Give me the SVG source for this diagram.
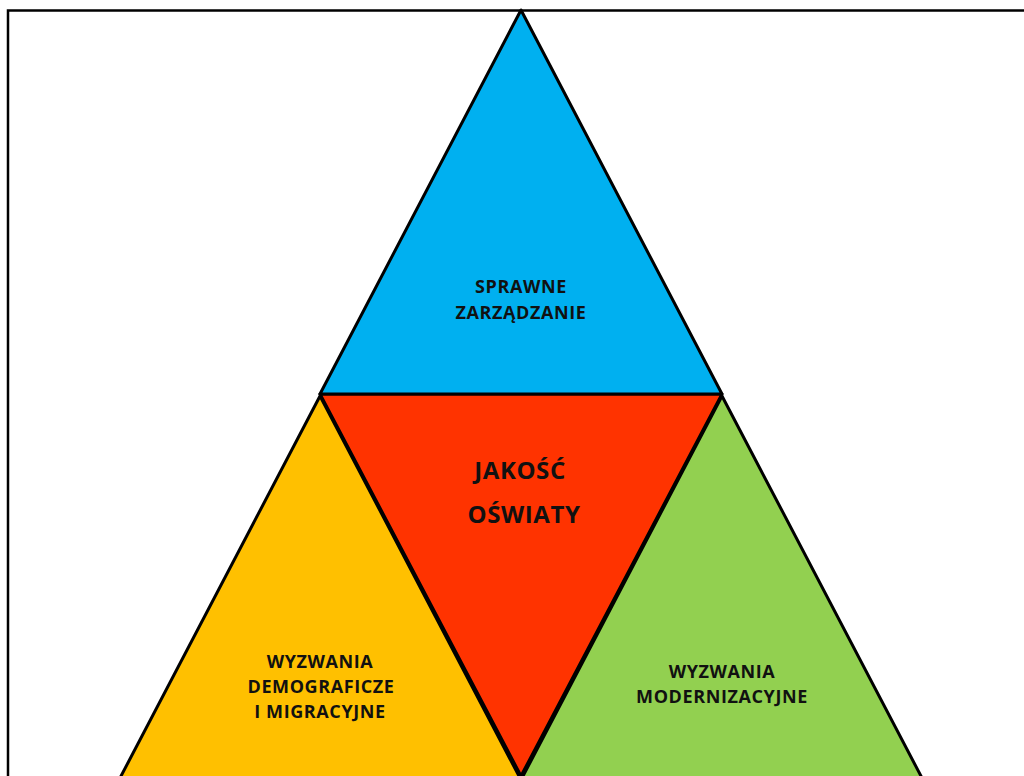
<svg xmlns="http://www.w3.org/2000/svg" width="1024" height="776" viewBox="0 0 1024 776">
<style>
.tri{stroke:#000;stroke-width:3;stroke-linejoin:round}
.lbl{font-family:"Open Sans","Liberation Sans",sans-serif;font-weight:bold;font-size:18px;letter-spacing:0.6px;fill:#111;text-anchor:middle}
.big{font-size:24px;letter-spacing:0.6px}
</style>
<rect x="0" y="0" width="1024" height="776" fill="#fff"/>
<path d="M8 776 L8 10.5 L1024 10.5" fill="none" stroke="#000" stroke-width="2.5"/>
<g id="connectors"></g>
<g id="node-yellow">
<polygon class="tri" points="320,396 120,778 520,778" fill="#FFC000"/>
<text class="lbl" x="320" y="668">WYZWANIA</text>
<text class="lbl" x="321" y="693">DEMOGRAFICZE</text>
<text class="lbl" x="320" y="718">I MIGRACYJNE</text>
</g>
<g id="node-green">
<polygon class="tri" points="722,396 522,778 922,778" fill="#92D050"/>
<text class="lbl" x="722" y="678">WYZWANIA</text>
<text class="lbl" x="722" y="703">MODERNIZACYJNE</text>
</g>
<g id="node-red">
<polygon class="tri" points="320,394 722,394 521,776" fill="#FF3300"/>
<text class="lbl big" x="520" y="479">JAKOŚĆ</text>
<text class="lbl big" x="524" y="523">OŚWIATY</text>
</g>
<g id="node-blue">
<polygon class="tri" points="521,10 320,394 722,394" fill="#00B0F0"/>
<text class="lbl" x="521" y="293">SPRAWNE</text>
<text class="lbl" x="521" y="319">ZARZĄDZANIE</text>
</g>
</svg>
